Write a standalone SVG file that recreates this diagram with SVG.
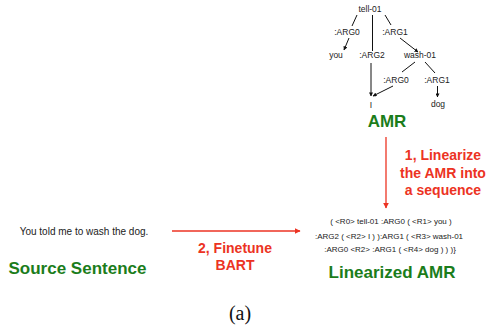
<svg xmlns="http://www.w3.org/2000/svg" width="486" height="329" viewBox="0 0 486 329">
<defs>
<style>
.n{font-family:"Liberation Sans",Arial,sans-serif;font-size:8.5px;fill:#222;text-anchor:middle}
.s{font-family:"Liberation Sans",Arial,sans-serif;font-size:8px;fill:#222;text-anchor:middle}
.g{font-family:"Liberation Sans",Arial,sans-serif;font-size:17px;font-weight:bold;fill:#1b7d1b;text-anchor:middle}
.r{font-family:"Liberation Sans",Arial,sans-serif;font-size:14px;font-weight:bold;fill:#ec3323;text-anchor:middle}
.e{stroke:#111;stroke-width:1;fill:none}
.re{stroke:#ec3323;stroke-width:1.3;fill:none}
</style>
<marker id="ah" viewBox="0 0 10 10" refX="9" refY="5" markerWidth="4" markerHeight="4" orient="auto" markerUnits="userSpaceOnUse"><path d="M0,0 L10,5 L0,10 z" fill="#111"/></marker>
<marker id="rh" viewBox="0 0 10 10" refX="9" refY="5" markerWidth="6" markerHeight="6" orient="auto" markerUnits="userSpaceOnUse"><path d="M0,0 L10,5 L0,10 z" fill="#ec3323"/></marker>
</defs>
<g id="connectors">
<line class="e" x1="357" y1="15" x2="352" y2="26"/>
<line class="e" x1="349" y1="38" x2="344" y2="50" marker-end="url(#ah)"/>
<line class="e" x1="372.5" y1="15" x2="372.5" y2="51"/>
<line class="e" x1="371" y1="63" x2="371" y2="96" marker-end="url(#ah)"/>
<line class="e" x1="385" y1="15" x2="391" y2="25"/>
<line class="e" x1="400" y1="38" x2="418" y2="52" marker-end="url(#ah)"/>
<line class="e" x1="415" y1="62" x2="402" y2="72"/>
<line class="e" x1="393" y1="86" x2="373" y2="96" marker-end="url(#ah)"/>
<line class="e" x1="425" y1="62" x2="435" y2="73"/>
<line class="e" x1="437.5" y1="86" x2="437.5" y2="97" marker-end="url(#ah)"/>
<line class="re" x1="386" y1="137" x2="386" y2="208" marker-end="url(#rh)"/>
<line class="re" x1="172" y1="231" x2="300" y2="231" marker-end="url(#rh)"/>
</g>
<g id="amr-graph">
<text class="n" x="370" y="12">tell-01</text>
<text class="n" x="347" y="35">:ARG0</text>
<text class="n" x="336" y="58">you</text>
<text class="n" x="372" y="58">:ARG2</text>
<text class="n" x="395" y="35">:ARG1</text>
<text class="n" x="420" y="58">wash-01</text>
<text class="n" x="396" y="83">:ARG0</text>
<text class="n" x="437" y="83">:ARG1</text>
<text class="n" x="371" y="108">I</text>
<text class="n" x="438" y="107">dog</text>
</g>
<g id="amr-label"><text class="g" x="387" y="127">AMR</text></g>
<g id="step1">
<text class="r" x="443" y="160">1, Linearize</text>
<text class="r" x="443" y="177.5">the AMR into</text>
<text class="r" x="443" y="195">a sequence</text>
</g>
<g id="linearized">
<text class="s" x="391" y="224">( &lt;R0&gt; tell-01 :ARG0 ( &lt;R1&gt; you )</text>
<text class="s" x="389" y="238.5">:ARG2 ( &lt;R2&gt; I ) ):ARG1 ( &lt;R3&gt; wash-01</text>
<text class="s" x="390" y="252">:ARG0 &lt;R2&gt; :ARG1 ( &lt;R4&gt; dog ) ) )}</text>
<text class="g" x="392" y="278">Linearized AMR</text>
</g>
<g id="source">
<text font-family="Liberation Sans, Arial, sans-serif" font-size="10" fill="#222" text-anchor="middle" x="84" y="235">You told me to wash the dog.</text>
<text class="g" x="77.5" y="274">Source Sentence</text>
</g>
<g id="step2">
<text class="r" x="235" y="253">2, Finetune</text>
<text class="r" x="235" y="270">BART</text>
</g>
<text font-family="Liberation Serif, Times New Roman, serif" font-size="20" fill="#111" text-anchor="middle" x="240" y="320">(a)</text>
</svg>
